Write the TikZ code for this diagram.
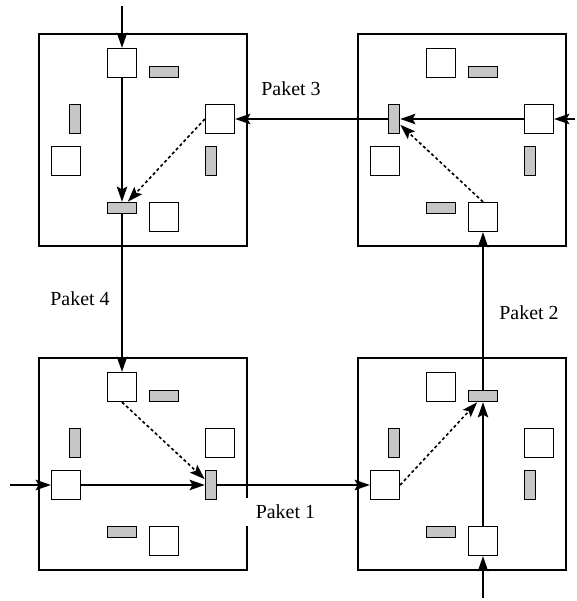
\documentclass[tikz,border=0pt]{standalone}
\usepackage{fontspec}
\setmainfont{Liberation Serif}
\usepackage{tikz}
\usetikzlibrary{arrows.meta}
\newcommand{\paketfont}{\fontsize{17}{20}\selectfont}
\tikzset{
  >={Stealth[length=13pt, width=9pt, inset=2.5pt]},
  rahmen/.style ={rectangle, draw, line width=1.5pt, inner sep=0pt,
                  minimum width=177.5pt, minimum height=181pt},
  port/.style   ={rectangle, draw, line width=1.1pt, fill=white, inner sep=0pt,
                  minimum size=24.8pt},
  hbuf/.style   ={rectangle, draw, line width=1.3pt, fill=gray!45, inner sep=0pt,
                  minimum width=24.8pt, minimum height=9.4pt},
  vbuf/.style   ={rectangle, draw, line width=1.3pt, fill=gray!45, inner sep=0pt,
                  minimum width=9.4pt, minimum height=24.8pt},
  con/.style    ={->, draw, line width=1.1pt},
  wk/.style     ={->, draw, line width=1.4pt, dash pattern=on 2.6pt off 2.2pt},
  lbl/.style    ={font=\paketfont, fill=white, inner sep=1.0pt},
}
% one router: frame, four ports (n,o,s,w) and four buffers
\newcommand{\knoten}[2]{%
  \begin{scope}[shift={#2}]
    \node[rahmen] (#1)   at (0,0)     {};
    \node[port]   (#1n)  at (-21,-77) {};
    \node[hbuf]   (#1nb) at (21,-68)  {};
    \node[port]   (#1o)  at (77,-21)  {};
    \node[vbuf]   (#1ob) at (68,21)   {};
    \node[port]   (#1s)  at (21,77)   {};
    \node[hbuf]   (#1sb) at (-21,68)  {};
    \node[port]   (#1w)  at (-77,21)  {};
    \node[vbuf]   (#1wb) at (-68,-21) {};
  \end{scope}}

\begin{document}
\begin{tikzpicture}[x=0.03cm, y=-0.03cm]
\useasboundingbox (0,0) rectangle (576,601);
\knoten{lo}{(143,140)}
\knoten{ro}{(462,140)}
\knoten{lu}{(143,464)}
\knoten{ru}{(462,464)}
\coordinate (ein4) at (122,6);
\coordinate (ein3) at (575,119);
\coordinate (ein1) at (10,485);
\coordinate (ein2) at (483,598);
% Paket 1
\draw[con] (ein1) -- (luw);
\draw[con] (luw) -- (luob);
\draw[con] (luob) -- (ruw);
\draw[wk]  (ruw.east) -- (runb);
% Paket 2
\draw[con] (ein2) -- (rus);
\draw[con] (rus) -- (runb);
\draw[con] (runb) -- (ros);
\draw[wk]  (ros.north) -- (rowb);
% Paket 3
\draw[con] (ein3) -- (roo);
\draw[con] (roo) -- (rowb);
\draw[con] (rowb) -- (loo);
\draw[wk]  (loo.west) -- (losb);
% Paket 4
\draw[con] (ein4) -- (lon);
\draw[con] (lon) -- (losb);
\draw[con] (losb) -- (lun);
\draw[wk]  (lun.south) -- (luob);
\node[lbl] (p3) at (291,89)  {Paket 3};
\node[lbl] (p4) at (80,299)  {Paket 4};
\node[lbl] (p2) at (529,313) {Paket 2};
\node[lbl, anchor=west, inner xsep=9pt, inner ysep=6pt] (p1) at (245,512) {Paket 1};
\end{tikzpicture}
\end{document}
